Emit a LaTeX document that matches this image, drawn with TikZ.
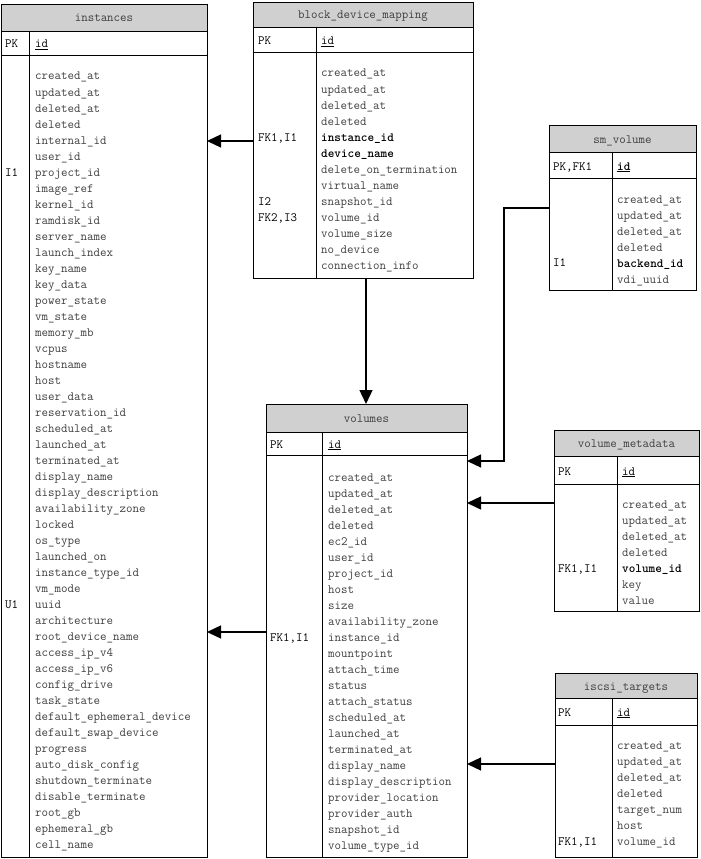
\documentclass[tikz,border=0pt]{standalone}
\usepackage{fontspec}
\usetikzlibrary{arrows.meta}
\definecolor{hdrgray}{RGB}{208,208,208}
\definecolor{txtgray}{RGB}{62,62,62}
\tikzset{
  x=1pt, y=-1pt,
  tblframe/.style={draw=black, line width=0.9pt, inner sep=0pt, outer sep=0pt, anchor=north west},
  tblline/.style={draw=black, line width=0.9pt},
  hdrtext/.style={font=\ttfamily\fontsize{12.6}{15}\selectfont, text=txtgray, inner sep=0pt, anchor=base},
  fld/.style={font=\ttfamily\fontsize{12.6}{15}\selectfont, text=txtgray, inner sep=0pt, anchor=base west},
  lbl/.style={font=\ttfamily\fontsize{12.6}{15}\selectfont, text=black, inner sep=0pt, anchor=base west},
  conn/.style={draw=black, line width=1.3pt, -{Triangle[length=14pt,width=13pt]}},
}
% name, x1, x2, top, header bottom, pk bottom, bottom, divider, title
\newcommand\dbtable[9]{%
  \fill[hdrgray] (#2,#4) rectangle (#3,#5);
  \node[tblframe, minimum width={#3-#2}, minimum height={#7-#4}] (#1) at (#2,#4) {};
  \draw[tblline] (#2,#5) -- (#3,#5);
  \draw[tblline] (#2,#6) -- (#3,#6);
  \draw[tblline] (#8,#5) -- (#8,#7);
  \node[hdrtext] (#1-title) at ({(#2+#3)/2},{(#4+#5)/2+4.5}) {#9};
}
% name, x, first baseline, list
\newcommand\fieldlist[4]{%
  \foreach \t [count=\i] in {#4} {
    \node[fld] (#1-f\i) at (#2,{#3+16*(\i-1)}) {\t};
  }
}
\begin{document}
\begin{tikzpicture}
\useasboundingbox (0,0) rectangle (701,859);

% ---------------- instances ----------------
\dbtable{inst}{1}{207}{4}{31}{55}{857}{29}{instances}
\node[lbl] (inst-pk) at (5,48) {PK};
\node[fld, text=black] (inst-id) at (35,48) {\underline{id}};
\fieldlist{inst}{35}{80}{created\_at,updated\_at,deleted\_at,deleted,internal\_id,user\_id,project\_id,image\_ref,kernel\_id,ramdisk\_id,server\_name,launch\_index,key\_name,key\_data,power\_state,vm\_state,memory\_mb,vcpus,hostname,host,user\_data,reservation\_id,scheduled\_at,launched\_at,terminated\_at,display\_name,display\_description,availability\_zone,locked,os\_type,launched\_on,instance\_type\_id,vm\_mode,uuid,architecture,root\_device\_name,access\_ip\_v4,access\_ip\_v6,config\_drive,task\_state,default\_ephemeral\_device,default\_swap\_device,progress,auto\_disk\_config,shutdown\_terminate,disable\_terminate,root\_gb,ephemeral\_gb,cell\_name}
\node[lbl] (inst-l1) at (5,176) {I1};
\node[lbl] (inst-l2) at (5,608) {U1};

% ---------------- block_device_mapping ----------------
\dbtable{bdm}{253}{473}{2}{27}{52}{278}{316}{block\_device\_mapping}
\node[lbl] (bdm-pk) at (258,45) {PK};
\node[fld, text=black] (bdm-id) at (321,45) {\underline{id}};
\fieldlist{bdm}{321}{77}{created\_at,updated\_at,deleted\_at,deleted,{\color{black}\bfseries instance\_id},{\color{black}\bfseries device\_name},delete\_on\_termination,virtual\_name,snapshot\_id,volume\_id,volume\_size,no\_device,connection\_info}
\node[lbl] (bdm-l1) at (258,141) {FK1,I1};
\node[lbl] (bdm-l2) at (258,205) {I2};
\node[lbl] (bdm-l3) at (258,221) {FK2,I3};

% ---------------- sm_volume ----------------
\dbtable{smv}{549}{696}{125}{152}{178}{290}{612}{sm\_volume}
\node[lbl] (smv-pk) at (553,170) {PK,FK1};
\node[fld, text=black] (smv-id) at (617,170) {\bfseries\underline{id}};
\fieldlist{smv}{617}{203}{created\_at,updated\_at,deleted\_at,deleted,{\color{black}\bfseries backend\_id},vdi\_uuid}
\node[lbl] (smv-l1) at (553,266) {I1};

% ---------------- volumes ----------------
\dbtable{vol}{266}{467}{404}{432}{455}{857}{322}{volumes}
\node[lbl] (vol-pk) at (270,448) {PK};
\node[fld, text=black] (vol-id) at (328,448) {\underline{id}};
\fieldlist{vol}{328}{481}{created\_at,updated\_at,deleted\_at,deleted,ec2\_id,user\_id,project\_id,host,size,availability\_zone,instance\_id,mountpoint,attach\_time,status,attach\_status,scheduled\_at,launched\_at,terminated\_at,display\_name,display\_description,provider\_location,provider\_auth,snapshot\_id,volume\_type\_id}
\node[lbl] (vol-l1) at (270,641) {FK1,I1};

% ---------------- volume_metadata ----------------
\dbtable{vmd}{554}{699}{430}{456}{484}{611}{617}{volume\_metadata}
\node[lbl] (vmd-pk) at (558,475) {PK};
\node[fld, text=black] (vmd-id) at (622,475) {\underline{id}};
\fieldlist{vmd}{622}{508}{created\_at,updated\_at,deleted\_at,deleted,{\color{black}\bfseries volume\_id},key,value}
\node[lbl] (vmd-l1) at (558,572) {FK1,I1};

% ---------------- iscsi_targets ----------------
\dbtable{isc}{555}{697}{673}{698}{725}{857}{612}{iscsi\_targets}
\node[lbl] (isc-pk) at (558,716) {PK};
\node[fld, text=black] (isc-id) at (617,716) {\underline{id}};
\fieldlist{isc}{617}{749}{created\_at,updated\_at,deleted\_at,deleted,target\_num,host,volume\_id}
\node[lbl] (isc-l1) at (558,845) {FK1,I1};

% ---------------- connectors ----------------
\draw[conn] (bdm.west |- 0,141) -- (inst.east |- 0,141);
\draw[conn] (bdm.south -| 366,0) -- (vol.north -| 366,0);
\coordinate (smvbend1) at (504,208);
\coordinate (smvbend2) at (504,461);
\draw[conn] (smv.west |- smvbend1) -- (smvbend1) -- (smvbend2) -- (vol.east |- smvbend2);
\draw[conn] (vmd.west |- 0,503) -- (vol.east |- 0,503);
\draw[conn] (isc.west |- 0,764) -- (vol.east |- 0,764);
\draw[conn] (vol.west |- 0,632) -- (inst.east |- 0,632);
\end{tikzpicture}
\end{document}
